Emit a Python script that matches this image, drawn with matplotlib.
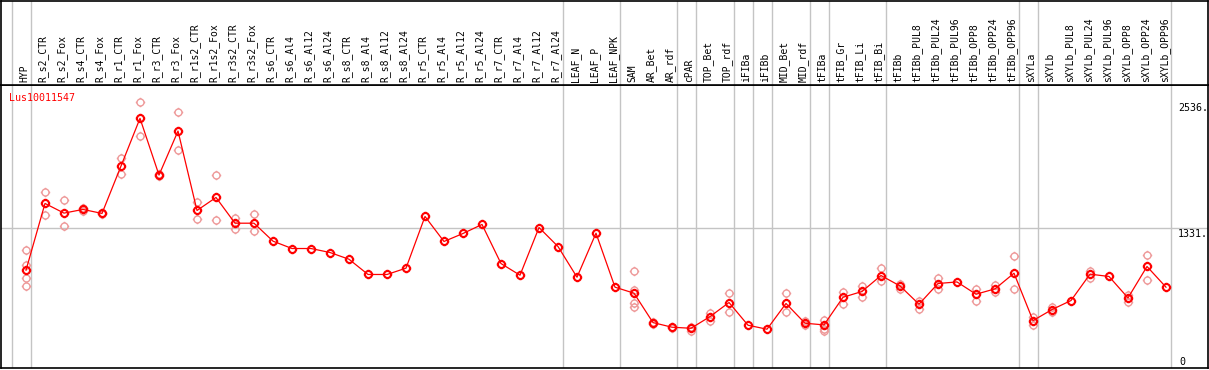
import matplotlib
matplotlib.use("Agg")
import matplotlib.pyplot as plt
import matplotlib.path as mpath

# ---------------- data ----------------
categories = ["HYP", "R_s2_CTR", "R_s2_Fox", "R_s4_CTR", "R_s4_Fox", "R_r1_CTR", "R_r1_Fox",
              "R_r3_CTR", "R_r3_Fox", "R_r1s2_CTR", "R_r1s2_Fox", "R_r3s2_CTR", "R_r3s2_Fox",
              "R_s6_CTR", "R_s6_Al4", "R_s6_Al12", "R_s6_Al24", "R_s8_CTR", "R_s8_Al4",
              "R_s8_Al12", "R_s8_Al24", "R_r5_CTR", "R_r5_Al4", "R_r5_Al12", "R_r5_Al24",
              "R_r7_CTR", "R_r7_Al4", "R_r7_Al12", "R_r7_Al24", "LEAF_N", "LEAF_P", "LEAF_NPK",
              "SAM", "AR_Bet", "AR_rdf", "cPAR", "TOP_Bet", "TOP_rdf", "iFIBa", "iFIBb",
              "MID_Bet", "MID_rdf", "tFIBa", "tFIB_Gr", "tFIB_Li", "tFIB_Bi", "tFIBb",
              "tFIBb_PUL8", "tFIBb_PUL24", "tFIBb_PUL96", "tFIBb_OPP8", "tFIBb_OPP24",
              "tFIBb_OPP96", "sXYLa", "sXYLb", "sXYLb_PUL8", "sXYLb_PUL24", "sXYLb_PUL96",
              "sXYLb_OPP8", "sXYLb_OPP24", "sXYLb_OPP96"]

mean_values = [934, 1569, 1477, 1512, 1474, 1925, 2379, 1839, 2258, 1502,
               1626, 1381, 1381, 1210, 1140, 1140, 1102, 1038, 893, 893,
               953, 1445, 1207, 1283, 1369, 997, 886, 1340, 1159, 867,
               1286, 772, 715, 435, 391, 381, 492, 626, 410, 372,
               617, 429, 413, 676, 731, 883, 784, 610, 807, 822,
               705, 756, 905, 454, 559, 645, 896, 874, 670, 969,
               772]

replicate_values = [
    [1124, 981, 860, 788], [1680, 1455], [1598, 1350], [1525, 1500], [1480, 1468],
    [2001, 1845], [2536, 2215], [1845, 1833], [2436, 2074], [1582, 1417],
    [1839, 1407], [1432, 1324], [1464, 1305], [], [], [], [], [], [], [],
    [], [], [], [], [], [], [], [], [], [],
    [], [], [924, 743, 626, 584], [445, 425], [395, 387], [391, 352], [531, 454],
    [721, 537], [], [],
    [714, 533], [451, 410], [464, 378, 355], [724, 616], [788, 679], [959, 829],
    [807, 759], [638, 569], [864, 753], [],
    [759, 641], [797, 724], [1067, 750], [492, 413], [584, 534], [], [927, 855],
    [], [696, 632], [1083, 845],
    [],
]

group_ends = [-1, 0, 28, 31, 34, 35, 37, 38, 39, 41, 42, 45, 52, 53, 60]
gene_name = "Lus10011547"
axis_marks = [2536, 1331, 0]

# ---------------- layout ----------------
W, H = 1209, 370
fig = plt.figure(figsize=(W / 100, H / 100), dpi=100)
fig.patch.set_facecolor("white")


def fx(px):
    return px / W


def fy(py):
    return 1 - py / H


ax = fig.add_axes([fx(1), fy(368.3), fx(1208) - fx(1), fy(85) - fy(368.3)])
axh = fig.add_axes([fx(1), fy(85), fx(1208) - fx(1), fy(0.6) - fy(85)], sharex=ax)

for a in (ax, axh):
    a.set_xticks([])
    a.set_yticks([])
    for s in a.spines.values():
        s.set_color("black")
        s.set_linewidth(1.2)

ax.set_xlim((1 - 26) / 19, (1208 - 26) / 19)
ax.set_ylim(0, 283 / 0.10496)
axh.set_ylim(0, 1)

grid_col = "#C4C4C4"
for g in group_ends:
    ax.axvline(g + 0.24, color=grid_col, lw=1.0, zorder=0.5)
    axh.axvline(g + 0.24, color=grid_col, lw=1.0, zorder=0.5)
ax.axhline(1331, color=grid_col, lw=1.0, zorder=0.5)

mono = "DejaVu Sans Mono"
for i, lab in enumerate(categories):
    axh.annotate(lab, xy=(i, 0), xycoords=("data", "axes fraction"),
                 xytext=(-1.2, 2.0), textcoords="offset points",
                 rotation=90, ha="center", va="bottom", fontsize=7, family=mono,
                 color="black")

for v in axis_marks:
    if v == 0:
        off = (-29 * 0.72, 3 * 0.72)
        txt = "0"
    else:
        off = (-30 * 0.72, -8.7 * 0.72)
        txt = f"{v}."
    ax.annotate(txt, xy=(1, v), xycoords=("axes fraction", "data"),
                xytext=off, textcoords="offset points", ha="left", va="baseline",
                fontsize=7.2, family=mono, color="black")

fig.text(fx(9), fy(101), gene_name, color="red", fontsize=7.2, family=mono,
         va="baseline", ha="left")

# ---------------- markers ----------------
circ = mpath.Path.unit_circle()
M, L = mpath.Path.MOVETO, mpath.Path.LINETO
ticks = mpath.Path([(0, 1), (0, 1.35), (0, -1), (0, -1.35),
                    (1, 0), (1.35, 0), (-1, 0), (-1.35, 0)], [M, L] * 4)
marker = mpath.Path.make_compound_path(circ, ticks)
ms = 6.8

for i, reps in enumerate(replicate_values):
    if reps:
        ax.plot([i] * len(reps), reps, linestyle="none", marker=marker, ms=ms,
                mfc="none", mec="#EE9A9A", mew=1.0, zorder=2)

xs = list(range(len(mean_values)))
ax.plot(xs, mean_values, color="red", lw=0.9, zorder=3)
ax.plot(xs, mean_values, linestyle="none", marker=marker, ms=ms, mfc="none",
        mec="red", mew=1.5, zorder=4)

fig.savefig("out.png", dpi=100, facecolor="white")
